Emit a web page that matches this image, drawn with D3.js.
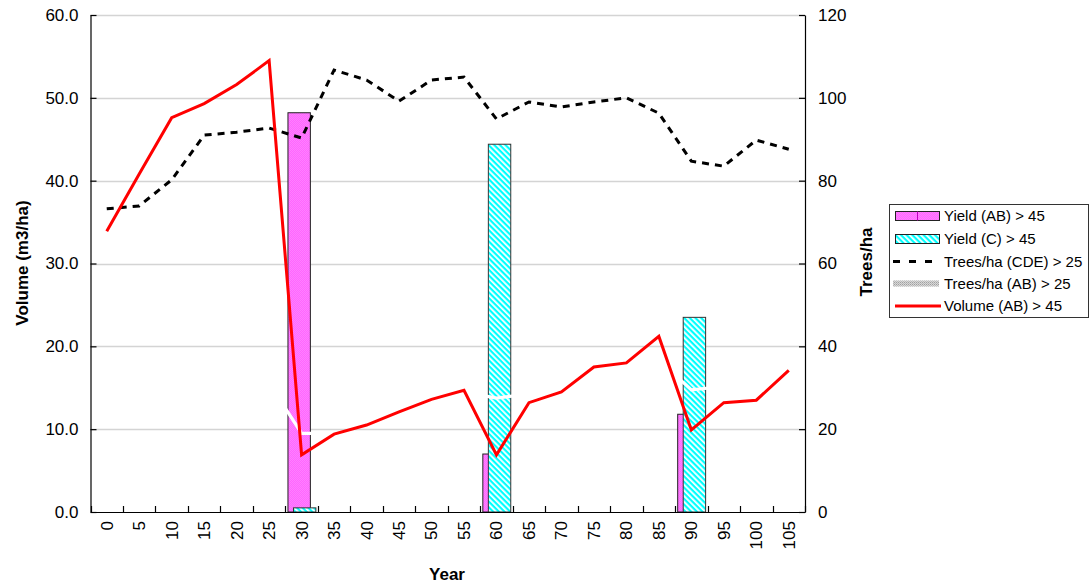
<!DOCTYPE html>
<html>
<head>
<meta charset="utf-8">
<script src="https://cdn.jsdelivr.net/npm/d3@7"></script>
<style>
  html, body { margin: 0; padding: 0; background: #fff; }
  svg { display: block; font-family: "Liberation Sans", Arial, sans-serif; }
</style>
</head>
<body>
<svg id="chart" width="1091" height="585"></svg>
<script>
// Stand development by year: harvest yields, stocking and standing volume
const years = [0, 5, 10, 15, 20, 25, 30, 35, 40, 45, 50, 55, 60, 65, 70, 75, 80, 85, 90, 95, 100, 105];

// Yield (m3/ha), null where no harvest
const yieldAB = [null, null, null, null, null, null, 48.2, null, null, null, null, null, 7.0, null, null, null, null, null, 11.8, null, null, null];
const yieldC  = [null, null, null, null, null, null, 0.5, null, null, null, null, null, 44.4, null, null, null, null, null, 23.5, null, null, null];

// Trees/ha (right axis)
const treesCDE = [73.2, 73.9, 80.2, 91.0, 91.7, 92.7, 90.3, 106.7, 104.3, 99.2, 104.3, 105.0, 94.9, 99.0, 97.8, 99.0, 100.0, 96.3, 84.7, 83.5, 89.8, 87.6];
const treesAB  = [null, null, null, null, null, 31.1, 19.0, 19.0, null, null, null, 29.0, 27.5, 28.5, null, null, null, 36.7, 29.5, 30.3, null, null];

// Standing volume (m3/ha, left axis)
const volumeAB = [33.9, 40.8, 47.6, 49.3, 51.6, 54.5, 6.9, 9.4, 10.5, 12.1, 13.6, 14.7, 6.9, 13.2, 14.5, 17.5, 18.0, 21.2, 9.9, 13.2, 13.5, 17.1];

const leftTicks = [0, 10, 20, 30, 40, 50, 60];
const rightTicks = [0, 20, 40, 60, 80, 100, 120];

const svg = d3.select("#chart");
const plot = { left: 90.5, right: 805, top: 15, bottom: 512 };
const FONT = "Liberation Sans, Arial, sans-serif";

const x = d3.scaleBand().domain(years).range([plot.left, plot.right]).paddingInner(0).paddingOuter(0);
const yL = d3.scaleLinear().domain([0, 60]).range([plot.bottom, plot.top]);
const yR = d3.scaleLinear().domain([0, 120]).range([plot.bottom, plot.top]);
const cx = d => x(d) + x.bandwidth() / 2;

// Fill patterns
const defs = svg.append("defs");
const pink = defs.append("pattern").attr("id", "pinkFill")
  .attr("patternUnits", "userSpaceOnUse").attr("width", 2).attr("height", 2);
pink.append("rect").attr("width", 2).attr("height", 2).attr("fill", "#ff66ff");
pink.append("rect").attr("width", 1).attr("height", 1).attr("fill", "#ff80ff");
pink.append("rect").attr("x", 1).attr("y", 1).attr("width", 1).attr("height", 1).attr("fill", "#ff80ff");

const cyan = defs.append("pattern").attr("id", "cyanFill")
  .attr("patternUnits", "userSpaceOnUse").attr("width", 4).attr("height", 4)
  .attr("patternTransform", "rotate(45)");
cyan.append("rect").attr("width", 4).attr("height", 4).attr("fill", "#ffffff");
cyan.append("rect").attr("width", 4).attr("height", 2.2).attr("fill", "#00ffff");

const gray = defs.append("pattern").attr("id", "grayFill")
  .attr("patternUnits", "userSpaceOnUse").attr("width", 2).attr("height", 2);
gray.append("rect").attr("width", 2).attr("height", 2).attr("fill", "#d8d8d8");
gray.append("rect").attr("width", 1).attr("height", 1).attr("fill", "#a0a0a0");
gray.append("rect").attr("x", 1).attr("y", 1).attr("width", 1).attr("height", 1).attr("fill", "#b8b8b8");

// Gridlines
svg.append("g").selectAll("line").data(leftTicks.filter(d => d > 0)).join("line")
  .attr("x1", plot.left).attr("x2", plot.right)
  .attr("y1", d => Math.round(yL(d)) + 0.5).attr("y2", d => Math.round(yL(d)) + 0.5)
  .attr("stroke", "#d4d4d4").attr("stroke-width", 1.5);

// Bars
const barW = x.bandwidth() * 0.69;
const offAB = -x.bandwidth() * 0.075;
const offC = x.bandwidth() * 0.095;

svg.append("g").selectAll("rect")
  .data(years.map((d, i) => ({ year: d, v: yieldAB[i] })).filter(d => d.v != null)).join("rect")
  .attr("x", d => cx(d.year) + offAB - barW / 2).attr("width", barW)
  .attr("y", d => yL(d.v)).attr("height", d => yL(0) - yL(d.v))
  .attr("fill", "url(#pinkFill)").attr("stroke", "#222").attr("stroke-width", 1);

svg.append("g").selectAll("rect")
  .data(years.map((d, i) => ({ year: d, v: yieldC[i] })).filter(d => d.v != null)).join("rect")
  .attr("x", d => cx(d.year) + offC - barW / 2).attr("width", barW)
  .attr("y", d => yL(d.v)).attr("height", d => yL(0) - yL(d.v))
  .attr("fill", "url(#cyanFill)").attr("stroke", "#333").attr("stroke-width", 1);

// Lines
const lineR = d3.line().defined(d => d.v != null).x(d => cx(d.year)).y(d => yR(d.v));
const lineL = d3.line().defined(d => d.v != null).x(d => cx(d.year)).y(d => yL(d.v));
const pts = arr => years.map((d, i) => ({ year: d, v: arr[i] }));

svg.append("path").datum(pts(treesAB)).attr("d", lineR)
  .attr("fill", "none").attr("stroke", "#ffffff").attr("stroke-width", 3.2);

svg.append("path").datum(pts(treesCDE)).attr("d", lineR)
  .attr("fill", "none").attr("stroke", "#000").attr("stroke-width", 3)
  .attr("stroke-dasharray", "7,6");

svg.append("path").datum(pts(volumeAB)).attr("d", lineL)
  .attr("fill", "none").attr("stroke", "#ff0000").attr("stroke-width", 3)
  .attr("stroke-linejoin", "miter");

// Axes
const axisColor = "#000";
const gL = svg.append("g").attr("transform", `translate(${plot.left},0)`)
  .call(d3.axisLeft(yL).tickValues(leftTicks).tickFormat(d3.format(".1f")).tickSizeInner(-6).tickSizeOuter(0));
const gR = svg.append("g").attr("transform", `translate(${plot.right},0)`)
  .call(d3.axisRight(yR).tickValues(rightTicks).tickFormat(d3.format("d")).tickSizeInner(-6).tickSizeOuter(0));
const gB = svg.append("g").attr("transform", `translate(0,${plot.bottom})`)
  .call(d3.axisBottom(x).tickSize(0));

[gL, gR].forEach(g => {
  g.select(".domain").attr("stroke", axisColor).attr("stroke-width", 1.2);
  g.selectAll(".tick line").attr("stroke", axisColor).attr("stroke-width", 1.2);
  g.selectAll("text").attr("font-size", 17).attr("fill", "#000").attr("font-family", FONT);
});
gL.selectAll(".tick text").attr("x", -12);
gR.selectAll(".tick text").attr("x", 13);

gB.select(".domain").attr("stroke", axisColor).attr("stroke-width", 1.2);
gB.selectAll(".tick text")
  .attr("font-size", 17).attr("fill", "#000").attr("font-family", FONT)
  .attr("transform", "rotate(-90)").attr("text-anchor", "end")
  .attr("x", -9).attr("y", 0).attr("dy", "0.35em");

// Category boundary ticks on the x axis, pointing into the plot
const bounds = years.map(d => x(d)).concat([plot.right]);
svg.append("g").selectAll("line").data(bounds).join("line")
  .attr("x1", d => Math.round(d) + 0.5).attr("x2", d => Math.round(d) + 0.5)
  .attr("y1", plot.bottom).attr("y2", plot.bottom - 6)
  .attr("stroke", axisColor).attr("stroke-width", 1.2);

// Axis titles
svg.append("text").attr("transform", `translate(28,263) rotate(-90)`)
  .attr("text-anchor", "middle").attr("font-size", 17).attr("font-weight", "bold").text("Volume (m3/ha)");
svg.append("text").attr("transform", `translate(872,262) rotate(-90)`)
  .attr("text-anchor", "middle").attr("font-size", 17).attr("font-weight", "bold").text("Trees/ha");
svg.append("text").attr("x", 447).attr("y", 580)
  .attr("text-anchor", "middle").attr("font-size", 17).attr("font-weight", "bold").text("Year");

// Legend
const legendItems = [
  { label: "Yield (AB) > 45", kind: "barAB" },
  { label: "Yield (C) > 45", kind: "barC" },
  { label: "Trees/ha (CDE) > 25", kind: "dash" },
  { label: "Trees/ha (AB) > 25", kind: "grayLine" },
  { label: "Volume (AB) > 45", kind: "red" }
];
const lg = svg.append("g");
lg.append("rect").attr("x", 889.5).attr("y", 204.5).attr("width", 199).attr("height", 113)
  .attr("fill", "#fff").attr("stroke", "#333").attr("stroke-width", 1);
const rowY = [216, 239, 261.5, 283.5, 306];
legendItems.forEach((it, i) => {
  const y = rowY[i];
  if (it.kind === "barAB") {
    lg.append("rect").attr("x", 895.5).attr("y", y - 4.5).attr("width", 44).attr("height", 9)
      .attr("fill", "url(#pinkFill)").attr("stroke", "#222");
    lg.append("line").attr("x1", 917.5).attr("x2", 917.5).attr("y1", y - 4.5).attr("y2", y + 4.5)
      .attr("stroke", "#c000c0").attr("stroke-width", 1);
  } else if (it.kind === "barC") {
    lg.append("rect").attr("x", 895.5).attr("y", y - 4.5).attr("width", 44).attr("height", 9)
      .attr("fill", "url(#cyanFill)").attr("stroke", "#222");
  } else if (it.kind === "dash") {
    lg.append("line").attr("x1", 893).attr("x2", 937).attr("y1", y).attr("y2", y)
      .attr("stroke", "#000").attr("stroke-width", 3).attr("stroke-dasharray", "7,9");
  } else if (it.kind === "grayLine") {
    lg.append("rect").attr("x", 893).attr("y", y - 3).attr("width", 46).attr("height", 6)
      .attr("fill", "url(#grayFill)");
  } else {
    lg.append("line").attr("x1", 895).attr("x2", 941).attr("y1", y).attr("y2", y)
      .attr("stroke", "#ff0000").attr("stroke-width", 3);
  }
  lg.append("text").attr("x", 944).attr("y", y).attr("dy", "0.35em")
    .attr("font-size", 15).attr("fill", "#000").attr("font-family", FONT).text(it.label);
});
</script>
</body>
</html>
